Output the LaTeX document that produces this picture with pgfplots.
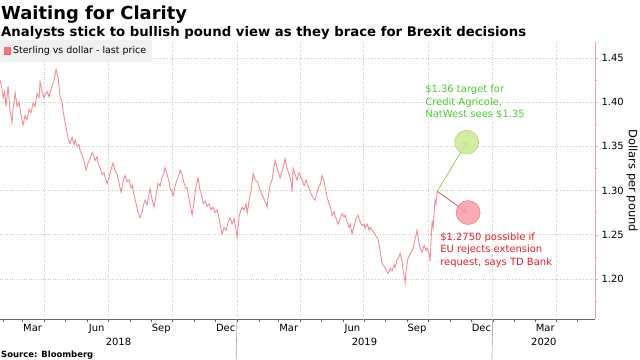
\documentclass[border=0pt]{standalone}
\usepackage{pgfplots}
\pgfplotsset{compat=1.18}
\usepackage{pgfplotstable}
\usetikzlibrary{arrows.meta}
\usepackage{fontspec}
\setmainfont{DejaVu Sans}
\definecolor{linered}{RGB}{238,122,128}
\definecolor{legred}{RGB}{242,98,104}
\definecolor{axpink}{RGB}{245,160,170}
\definecolor{gtext}{RGB}{72,206,44}
\definecolor{gfill}{RGB}{204,232,146}
\definecolor{gedge}{RGB}{165,212,90}
\definecolor{garrow}{RGB}{140,200,60}
\definecolor{rtext}{RGB}{232,30,40}
\definecolor{rfill}{RGB}{250,156,166}
\definecolor{redge}{RGB}{236,104,118}
\definecolor{rarrow}{RGB}{225,70,90}
\definecolor{gridc}{RGB}{205,205,205}

% p = horizontal position in reference pixels, v = GBP/USD
\pgfplotstableread{
p v
0 1.425
1.5 1.418
3 1.405
4.5 1.412
6 1.395
8 1.418
10 1.390
12 1.377
13 1.392
14 1.400
15 1.411
17 1.395
19 1.400
21 1.385
23 1.374
25 1.385
27 1.380
29 1.392
31 1.388
33 1.399
35 1.395
37 1.410
39 1.405
40 1.423
42 1.412
44 1.405
45 1.408
47 1.412
49 1.406
50 1.411
52 1.418
54 1.425
56 1.437
58 1.428
60 1.406
62 1.400
63 1.390
65 1.377
67 1.365
68 1.359
70 1.353
72 1.360
74 1.352
75 1.357
77 1.350
79 1.352
80 1.345
82 1.340
84 1.333
86 1.323
88 1.331
90 1.336
92 1.343
93 1.341
95 1.334
97 1.338
98 1.331
100 1.325
102 1.318
104 1.320
105 1.315
107 1.308
109 1.315
111 1.324
113 1.331
115 1.322
117 1.318
119 1.308
121 1.298
123 1.310
125 1.317
127 1.310
129 1.312
131 1.303
132 1.306
134 1.295
136 1.285
138 1.275
140 1.269
142 1.276
143 1.282
145 1.289
147 1.284
149 1.296
150 1.302
152 1.290
154 1.281
156 1.295
158 1.308
160 1.305
162 1.315
164 1.320
165 1.326
167 1.318
169 1.310
170 1.302
172 1.298
173 1.294
175 1.305
177 1.312
179 1.318
180 1.323
182 1.318
184 1.308
186 1.302
187 1.303
189 1.290
191 1.278
192 1.272
194 1.288
196 1.305
198 1.314
200 1.300
202 1.293
203 1.285
205 1.288
207 1.282
209 1.285
211 1.278
213 1.281
215 1.275
217 1.278
218 1.274
220 1.262
222 1.251
224 1.258
226 1.255
228 1.264
230 1.269
232 1.262
234 1.268
236 1.255
237 1.247
239 1.270
240 1.275
242 1.281
244 1.278
246 1.285
247 1.274
249 1.288
251 1.300
253 1.319
255 1.312
257 1.310
258 1.308
260 1.300
262 1.295
264 1.290
266 1.285
267 1.281
268 1.292
270 1.306
272 1.312
273 1.320
275 1.334
277 1.325
279 1.318
280 1.314
282 1.322
284 1.330
285 1.336
287 1.325
289 1.318
291 1.310
292 1.298
293 1.325
295 1.318
297 1.312
299 1.320
300 1.317
302 1.312
304 1.305
306 1.312
307 1.308
309 1.302
311 1.296
313 1.292
315 1.289
317 1.298
319 1.305
320 1.306
322 1.317
324 1.310
326 1.298
327 1.292
329 1.285
331 1.278
332 1.272
334 1.276
336 1.268
338 1.262
340 1.268
342 1.274
344 1.270
345 1.272
347 1.265
349 1.258
350 1.262
352 1.251
354 1.260
356 1.268
358 1.272
360 1.265
362 1.260
364 1.262
365 1.257
367 1.262
369 1.255
370 1.258
372 1.255
374 1.252
376 1.248
378 1.245
380 1.232
382 1.217
384 1.214
386 1.210
388 1.206
390 1.212
392 1.209
394 1.216
395 1.213
397 1.222
399 1.225
400 1.229
402 1.220
403 1.210
405 1.196
406 1.210
408 1.224
410 1.228
412 1.232
413 1.235
415 1.245
417 1.255
419 1.240
420 1.235
422 1.230
424 1.238
426 1.232
427 1.235
429 1.228
430 1.220
431 1.245
432 1.266
433 1.258
434 1.275
435 1.289
436 1.285
437 1.299
}\gbpusd

\begin{document}
\begin{tikzpicture}
\useasboundingbox (0,-41bp) rectangle (640bp,319bp);
\begin{axis}[
  at={(0,0)}, anchor=south west,
  scale only axis, width=595bp, height=277bp,
  xmin=27, xmax=876, ymin=1.1545, ymax=1.468,
  axis x line*=bottom, axis y line*=right,
  x axis line style={draw=black!60},
  y axis line style={draw=axpink, line width=0.8pt},
  xtick={31,59,90,120,151,181,212,243,273,304,334,365,396,424,455,485,516,546,577,608,638,669,699,730,761,790,821,851},
  xticklabels={},
  x tick style={draw=black!60},
  extra x ticks={90,181,273,365,455,546,638,730,821},
  extra x tick labels={},
  extra x tick style={grid=major, major grid style={draw=gridc, dotted, line width=0.5pt}},
  ytick={1.2,1.25,1.3,1.35,1.4,1.45},
  yticklabels={1.20,1.25,1.30,1.35,1.40,1.45},
  minor ytick={1.175,1.225,1.275,1.325,1.375,1.425},
  y tick style={draw=axpink},
  ymajorgrids, major grid style={draw=gridc, dotted, line width=0.5pt},
  tick align=outside, major tick length=3bp, minor tick length=2bp,
  yticklabel style={font=\fontsize{10}{12}\selectfont},
  clip=false,
  legend style={at={(rel axis cs:0,1)}, anchor=north west, draw=none, fill=black!6,
    font=\fontsize{9.5}{11}\selectfont, inner xsep=4bp, inner ysep=4.5bp, yshift=2bp},
  legend cell align=left,
  legend image code/.code={\fill[legred] (0bp,-3.5bp) rectangle (6bp,3.5bp);},
]
\addplot[color=linered, line width=0.9pt, opacity=0.85] table[x expr={(\thisrow{p}+19)*1.427}, y=v] {\gbpusd};
\addlegendentry{Sterling vs dollar - last price}
% target circles
\addplot[only marks, mark=*, mark size=12bp, mark options={fill=gfill, draw=gedge, fill opacity=0.85}, forget plot] coordinates {(693,1.3546)};
\addplot[only marks, mark=*, mark size=12bp, mark options={fill=rfill, draw=redge, fill opacity=0.85}, forget plot] coordinates {(695,1.275)};
% arrows from the last price to the targets
\addplot[color=garrow, line width=0.7pt, -{To[length=4.5bp,width=8bp]}, forget plot] coordinates {(651,1.299) (693,1.3546)};
\addplot[color=rarrow, line width=0.7pt, -{To[length=4.5bp,width=8bp]}, forget plot] coordinates {(651,1.299) (693,1.275)};
% annotations
\node[anchor=north west, align=left, text=gtext, font=\fontsize{10}{12.5}\selectfont, inner sep=0pt] at (axis cs:633.6,1.4193) {\$1.36 target for\\Credit Agricole,\\NatWest sees \$1.35};
\node[anchor=north west, align=left, text=rtext, font=\fontsize{10}{12.5}\selectfont, inner sep=0pt] at (axis cs:655,1.2523) {\$1.2750 possible if\\EU rejects extension\\request, says TD Bank};
% month labels
\node[anchor=base, font=\fontsize{10}{12}\selectfont, inner sep=0pt, yshift=-12bp] at (axis cs:73.5,1.1545) {Mar};
\node[anchor=base, font=\fontsize{10}{12}\selectfont, inner sep=0pt, yshift=-12bp] at (axis cs:165,1.1545) {Jun};
\node[anchor=base, font=\fontsize{10}{12}\selectfont, inner sep=0pt, yshift=-12bp] at (axis cs:257,1.1545) {Sep};
\node[anchor=base, font=\fontsize{10}{12}\selectfont, inner sep=0pt, yshift=-12bp] at (axis cs:349,1.1545) {Dec};
\node[anchor=base, font=\fontsize{10}{12}\selectfont, inner sep=0pt, yshift=-12bp] at (axis cs:439,1.1545) {Mar};
\node[anchor=base, font=\fontsize{10}{12}\selectfont, inner sep=0pt, yshift=-12bp] at (axis cs:530,1.1545) {Jun};
\node[anchor=base, font=\fontsize{10}{12}\selectfont, inner sep=0pt, yshift=-12bp] at (axis cs:622,1.1545) {Sep};
\node[anchor=base, font=\fontsize{10}{12}\selectfont, inner sep=0pt, yshift=-12bp] at (axis cs:714,1.1545) {Dec};
\node[anchor=base, font=\fontsize{10}{12}\selectfont, inner sep=0pt, yshift=-12bp] at (axis cs:805,1.1545) {Mar};
\node[anchor=base, font=\fontsize{10}{12}\selectfont, inner sep=0pt, yshift=-26bp] at (axis cs:196,1.1545) {2018};
\node[anchor=base, font=\fontsize{10}{12}\selectfont, inner sep=0pt, yshift=-26bp] at (axis cs:547,1.1545) {2019};
\node[anchor=base, font=\fontsize{10}{12}\selectfont, inner sep=0pt, yshift=-26bp] at (axis cs:803,1.1545) {2020};
\draw[black!35, line width=0.6pt] (axis cs:365,1.1545) -- ++(0,-28bp);
\draw[black!35, line width=0.6pt] (axis cs:730,1.1545) -- ++(0,-28bp);
\node[xshift=37bp, rotate=-90, anchor=center, font=\fontsize{11.5}{13}\selectfont, inner sep=0pt] at (axis cs:876,1.311) {Dollars per pound};
\end{axis}
\node[anchor=base west, font=\bfseries\fontsize{18}{20}\selectfont, inner sep=0pt] at (1bp,299bp) {Waiting for Clarity};
\node[anchor=base west, font=\bfseries\fontsize{13.3}{15}\selectfont, inner sep=0pt] at (1bp,282bp) {Analysts stick to bullish pound view as they brace for Brexit decisions};
\node[anchor=base west, font=\bfseries\fontsize{8.5}{10}\selectfont, inner sep=0pt] at (1bp,-38bp) {Source: Bloomberg};
\end{tikzpicture}
\end{document}
